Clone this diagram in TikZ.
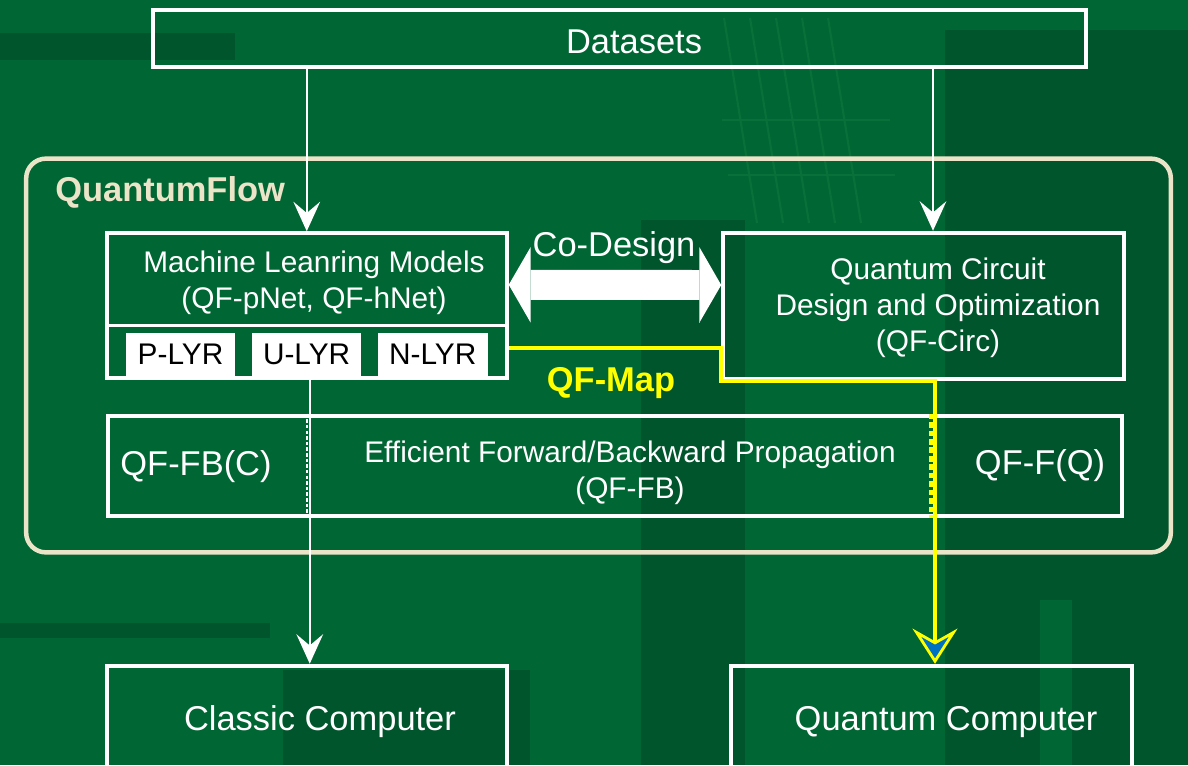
\documentclass[tikz,border=0pt]{standalone}
\usepackage{fontspec}
\setmainfont{Liberation Sans}
\usetikzlibrary{arrows.meta, positioning, calc}

\definecolor{qfgreen}{RGB}{0,102,51}
\definecolor{qfdark}{RGB}{0,85,45}
\definecolor{qfgrid}{RGB}{10,112,58}
\definecolor{qfcream}{RGB}{236,228,200}
\definecolor{qfyellow}{RGB}{255,255,0}
\definecolor{qfblue}{RGB}{0,112,192}

\newcommand{\bigfont}{\fontsize{24.5pt}{29.5pt}\selectfont}
\newcommand{\medfont}{\fontsize{21.2pt}{25.5pt}\selectfont}

\begin{document}
\begin{tikzpicture}[x=0.025cm, y=-0.025cm,
	box/.style={draw=white, line width=2.8pt, inner sep=0pt},
	frame/.style={draw=qfcream, line width=3.2pt, rounded corners=14pt, inner sep=0pt},
	layer/.style={fill=white, text=black, font=\medfont, inner sep=0pt,
		minimum width=78pt, minimum height=30.5pt},
	bigtxt/.style={text=white, font=\bigfont, inner sep=0pt, align=center},
	medtxt/.style={text=white, font=\medfont, inner sep=0pt, align=center},
	flow/.style={draw=white, line width=1.4pt, -{Stealth[length=21pt, width=19pt, inset=8pt]}},
	qfmap/.style={draw=qfyellow, line width=2.8pt,
		-{Stealth[length=25pt, width=32pt, inset=9pt, fill=qfblue, line width=2pt]}},
	codesign/.style={draw=white, line width=21.3pt,
		{Triangle[length=15.6pt, width=53.9pt, line width=0pt]}-{Triangle[length=15.6pt, width=53.9pt, line width=0pt]}}]

	\useasboundingbox (0,0) rectangle (1188,765);
	\clip (0,0) rectangle (1188,765);

	% background
	\fill[qfgreen] (0,0) rectangle (1188,765);
	\fill[qfdark] (0,33) rectangle (235,60);
	\fill[qfdark] (0,623) rectangle (270,638);
	\fill[qfdark] (283,670) rectangle (530,765);
	\fill[qfdark] (641,220) rectangle (745,765);
	\fill[qfdark] (945,30) rectangle (1188,765);
	\fill[qfgreen] (1040,600) rectangle (1072,765);
	\foreach \i in {0,...,4} {
		\draw[qfgrid, line width=1.5pt] (724+26*\i,18) -- (757+26*\i,223);
	}
	\draw[qfgrid, line width=1.5pt] (722,120) -- (890,120) (728,175) -- (895,175);

	% datasets
	\node[box, minimum width=664pt, minimum height=40.7pt] (data) at (619.5,38.3) {};
	\node[bigtxt] (dataT) at (634,42) {Datasets};

	% quantumflow frame
	\node[frame, minimum width=814pt, minimum height=280pt] (qflow) at (598.5,355.5) {};
	\node[bigtxt, font=\bigfont\bfseries, text=qfcream, anchor=west] (qfname) at (55,192) {QuantumFlow};

	% machine learning models
	\node[box, minimum width=284.5pt, minimum height=103.1pt] (ml) at (306.75,305.75) {};
	\node[medtxt] (mlT) at (314,283) {Machine Leanring Models\\(QF-pNet, QF-hNet)};
	\draw[white, line width=2pt] ($(ml.north west)+(0,94)$) -- ($(ml.north east)+(0,94)$);
	\node[layer] (plyr) at (180.5,354.5) {P-LYR};
	\node[layer, right=11.3pt of plyr] (ulyr) {U-LYR};
	\node[layer, right=11.3pt of ulyr] (nlyr) {N-LYR};

	% quantum circuit
	\node[box, minimum width=284.9pt, minimum height=104.2pt] (qc) at (923.5,306) {};
	\node[medtxt] (qcT) at (938,308) {Quantum Circuit\\Design and Optimization\\(QF-Circ)};

	% forward/backward
	\node[box, minimum width=720.7pt, minimum height=71.2pt] (fb) at (615,465.75) {};
	\node[bigtxt] (fbC) at (196,467) {QF-FB(C)};
	\node[medtxt] (fbM) at (630,473) {Efficient Forward/Backward Propagation\\(QF-FB)};
	\node[bigtxt] (fbQ) at (1040,466) {QF-F(Q)};

	% computers
	\node[box, minimum width=284.5pt, minimum height=95.7pt] (cc) at (306.75,733) {};
	\node[bigtxt] (ccT) at (320,722) {Classic Computer};
	\node[box, minimum width=284.9pt, minimum height=95.7pt] (qpu) at (931.5,733) {};
	\node[bigtxt] (qpuT) at (946,722) {Quantum Computer};

	% co-design
	\draw[codesign] ($(ml.east)+(0,-21)$) -- ($(qc.west)+(0,-21)$);
	\node[bigtxt] (codeT) at (614,248) {Co-Design};

	% connectors
	\coordinate (qin) at ($(qc.north)+(9.5,0)$);
	\draw[flow] (data.south -| ml.north) -- (ml.north);
	\draw[flow] (data.south -| qin) -- (qin);
	\draw[flow] ($(ml.south)+(3,0)$) -- ($(cc.north -| ml.south)+(3,0)$);
	\draw[white, line width=1.4pt, dash pattern=on 2.5pt off 1.5pt]
		(ml.south |- fb.north) -- (ml.south |- fb.south);

	% qf-map
	\coordinate (qdown) at ($(qc.south)+(11.5,0)$);
	\draw[qfyellow, line width=2.2pt, dash pattern=on 4pt off 2pt]
		($(qdown |- fb.north)+(-4,0)$) -- ($(qdown |- fb.south)+(-4,0)$);
	\draw[qfmap] ($(ml.south east)+(0,-32)$) -| (qc.south west) -- (qdown) -- (qdown |- qpu.north);
	\node[bigtxt, font=\bigfont\bfseries, text=qfyellow] (mapT) at (611,383) {QF-Map};
\end{tikzpicture}
\end{document}
